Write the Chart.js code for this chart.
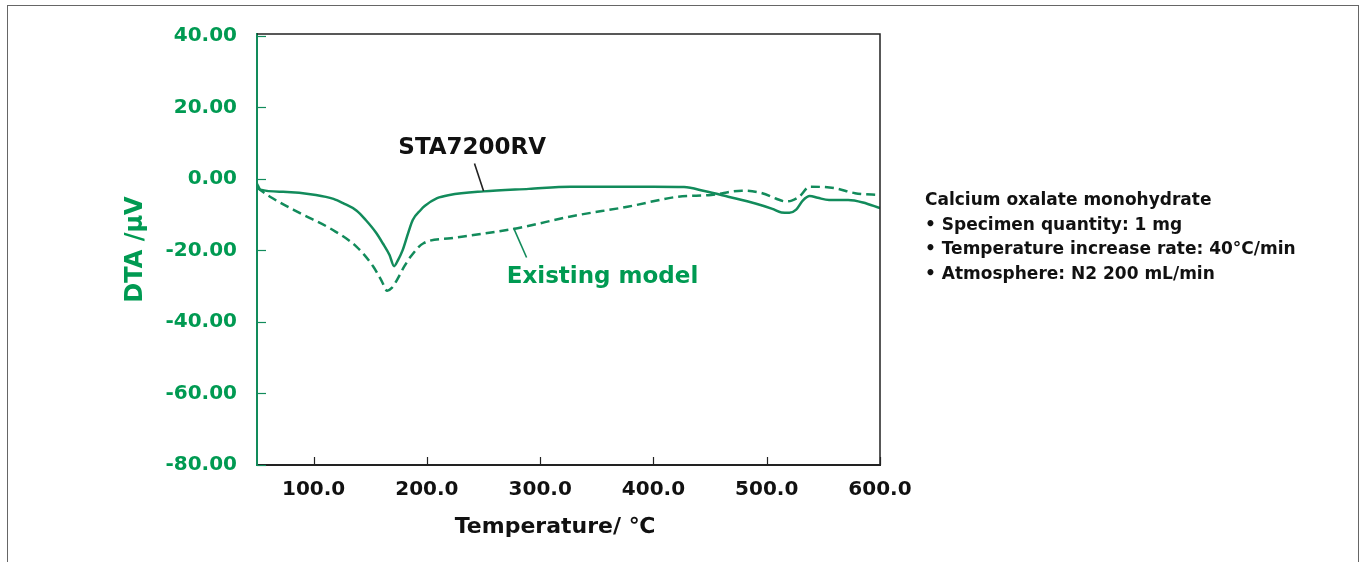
<!DOCTYPE html>
<html>
<head>
<meta charset="utf-8">
<script src="https://cdn.jsdelivr.net/npm/chart.js@4/dist/chart.umd.min.js"></script>
<style>
  html, body { margin: 0; padding: 0; background: #fff; }
  #wrap { position: relative; width: 1365px; height: 562px; overflow: hidden; background: #fff; }
  #frame { position: absolute; left: 7px; top: 5px; width: 1352px; height: 600px; border: 1.5px solid #666; box-sizing: border-box; }
  canvas { position: absolute; left: 0; top: 0; }
  #note { position: absolute; left: 925px; top: 187px; font-family: "DejaVu Sans", sans-serif; font-weight: bold; font-size: 17px; line-height: 24.5px; color: #111; white-space: nowrap; }
</style>
</head>
<body>
<div id="wrap">
  <div id="frame"></div>
  <canvas id="c" width="1365" height="562"></canvas>
  <div id="note">
    <div>Calcium oxalate monohydrate</div>
    <div>• Specimen quantity: 1 mg</div>
    <div>• Temperature increase rate: 40°C/min</div>
    <div>• Atmosphere: N2 200 mL/min</div>
  </div>
</div>
<script>
// ---- data ----
const xTicks = [100, 200, 300, 400, 500, 600];
const yTicks = [40, 20, 0, -20, -40, -60, -80];

const staTemps  = [50, 53, 73, 102, 117.5, 126, 138, 146, 155, 161, 167, 171, 174.5, 178.5, 183.5, 187.5, 194.5, 198, 209, 220, 250, 290, 327, 370, 400, 427, 445, 466, 490, 505, 513, 520, 526, 532, 538, 545, 555, 572, 585, 600];
const staValues = [-1.4, -3.0, -3.6, -4.5, -5.6, -6.8, -8.9, -11.5, -15.0, -18.0, -21.3, -24.4, -22.7, -20.0, -15.1, -11.5, -8.7, -7.6, -5.4, -4.5, -3.5, -2.8, -2.2, -2.2, -2.2, -2.3, -3.4, -5.0, -6.9, -8.4, -9.4, -9.5, -8.6, -6.0, -4.8, -5.3, -5.9, -5.9, -6.6, -8.2];

const exTemps  = [50, 61.5, 88, 117, 138, 152.6, 160, 165, 169, 173.5, 180, 185.5, 197, 221, 250, 280, 327, 377, 421.5, 451, 478, 496, 508, 516.5, 522, 528.6, 538, 560, 578, 600];
const exValues = [-2.5, -5.0, -9.6, -14.3, -19.0, -24.5, -28.5, -31.3, -30.5, -28.3, -24.5, -21.8, -18.0, -16.6, -15.3, -13.8, -10.5, -7.8, -5.0, -4.5, -3.3, -4.0, -5.5, -6.3, -6.1, -5.0, -2.2, -2.6, -4.0, -4.5];

const seriesNames = ["STA7200RV", "Existing model"];
const xTitle = "Temperature/ ℃";
const yTitle = "DTA /μV";

// ---- styles ----
const GREEN_TEXT = "#009a52";
const GREEN_LINE = "#128b5b";
const DARK = "#222";

// annotation anchors in data coordinates
const labelAnn = [
  { text: seriesNames[0], x: 240, y: 8.7, color: "#111", lx1: 242, ly1: 4.3, lx2: 250, ly2: -3.4, lcolor: "#222" },
  { text: seriesNames[1], x: 355, y: -27.4, color: GREEN_TEXT, lx1: 276.5, ly1: -13.7, lx2: 288, ly2: -22.0, lcolor: GREEN_LINE }
];

const zip = (xs, ys) => xs.map((x, i) => ({ x: x, y: ys[i] }));

const decor = {
  id: "decor",
  afterDatasetsDraw(chart) {
    const ctx = chart.ctx;
    const xs = chart.scales.x, ys = chart.scales.y;
    const a = chart.chartArea;
    ctx.save();
    // frame top & right
    ctx.strokeStyle = DARK;
    ctx.lineWidth = 1.5;
    ctx.beginPath();
    ctx.moveTo(a.left, a.top); ctx.lineTo(a.right, a.top); ctx.lineTo(a.right, a.bottom);
    ctx.stroke();
    // inward ticks
    ctx.lineWidth = 1.2;
    ctx.strokeStyle = GREEN_LINE;
    yTicks.forEach(v => {
      const py = Math.round(ys.getPixelForValue(v)) + 0.5;
      ctx.beginPath(); ctx.moveTo(a.left, py); ctx.lineTo(a.left + 9, py); ctx.stroke();
    });
    ctx.strokeStyle = DARK;
    xTicks.forEach(v => {
      const px = Math.round(xs.getPixelForValue(v)) + 0.5;
      ctx.beginPath(); ctx.moveTo(px, a.bottom); ctx.lineTo(px, a.bottom - 8); ctx.stroke();
    });
    // annotations
    labelAnn.forEach(an => {
      ctx.strokeStyle = an.lcolor;
      ctx.lineWidth = 1.6;
      ctx.beginPath();
      ctx.moveTo(xs.getPixelForValue(an.lx1), ys.getPixelForValue(an.ly1));
      ctx.lineTo(xs.getPixelForValue(an.lx2), ys.getPixelForValue(an.ly2));
      ctx.stroke();
      ctx.fillStyle = an.color;
      ctx.font = "bold 23px 'DejaVu Sans'";
      ctx.textAlign = "center";
      ctx.textBaseline = "middle";
      ctx.fillText(an.text, xs.getPixelForValue(an.x), ys.getPixelForValue(an.y));
    });
    // x title
    ctx.fillStyle = "#111";
    ctx.font = "bold 22px 'DejaVu Sans'";
    ctx.textAlign = "center";
    ctx.textBaseline = "middle";
    ctx.fillText(xTitle, 555, 527);
    ctx.restore();
  }
};

new Chart(document.getElementById("c"), {
  type: "line",
  data: {
    datasets: [
      {
        label: seriesNames[0],
        data: zip(staTemps, staValues),
        borderColor: GREEN_LINE,
        borderWidth: 2.5,
        pointRadius: 0,
        fill: false,
        cubicInterpolationMode: "monotone"
      },
      {
        label: seriesNames[1],
        data: zip(exTemps, exValues),
        borderColor: GREEN_LINE,
        borderWidth: 2.5,
        borderDash: [9, 5],
        pointRadius: 0,
        fill: false,
        cubicInterpolationMode: "monotone"
      }
    ]
  },
  options: {
    responsive: false,
    animation: false,
    events: [],
    layout: { padding: { left: 120, right: 485, top: 34, bottom: 10 } },
    plugins: { legend: { display: false }, tooltip: { enabled: false } },
    scales: {
      x: {
        type: "linear",
        min: 50,
        max: 600,
        afterFit: s => { s.height = 87; },
        afterBuildTicks: s => { s.ticks = xTicks.map(v => ({ value: v })); },
        grid: { display: false },
        border: { display: true, color: DARK, width: 2 },
        ticks: {
          padding: 5,
          color: "#111",
          font: { family: "DejaVu Sans", size: 20, weight: "bold" },
          callback: v => Number(v).toFixed(1),
          maxRotation: 0
        },
        title: { display: false }
      },
      y: {
        type: "linear",
        min: -80,
        max: 40.5,
        afterFit: s => { s.width = 137; },
        afterBuildTicks: s => { s.ticks = yTicks.map(v => ({ value: v })); },
        grid: { display: false },
        border: { display: true, color: GREEN_LINE, width: 2 },
        ticks: {
          padding: 12,
          color: GREEN_TEXT,
          font: { family: "DejaVu Sans", size: 20, weight: "bold" },
          callback: v => Number(v).toFixed(2)
        },
        title: {
          display: true,
          text: yTitle,
          color: GREEN_TEXT,
          font: { family: "DejaVu Sans", size: 24, weight: "bold" },
          padding: { top: 1, bottom: 0 }
        }
      }
    }
  },
  plugins: [decor]
});
</script>
</body>
</html>
